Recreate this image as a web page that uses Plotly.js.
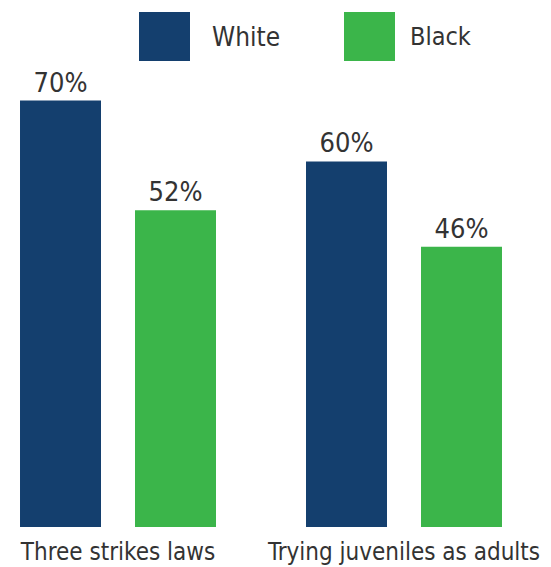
<!DOCTYPE html>
<html>
<head>
<meta charset="utf-8">
<script src="https://cdn.plot.ly/plotly-3.0.1.min.js"></script>
<style>html,body{margin:0;padding:0;background:#fff;}#chart{width:551px;height:567px;}</style>
</head>
<body>
<div id="chart"></div>
<script>
const categories = ["Three strikes laws", "Trying juveniles as adults"];
const seriesNames = ["White", "Black"];
const whiteValues = [70, 60];
const blackValues = [52, 46];

const FONT = "'DejaVu Sans Condensed', 'DejaVu Sans', sans-serif";
const NAVY = "#143f6e";
const GREEN = "#3bb54a";
const TEXT = "#333333";

const traces = [
  {type: "bar", name: seriesNames[0], x: categories, y: whiteValues,
   marker: {color: NAVY}, text: whiteValues.map(v => v + "%"), textposition: "outside",
   textfont: {family: FONT, size: 27, color: TEXT}, cliponaxis: false, hoverinfo: "skip"},
  {type: "bar", name: seriesNames[1], x: categories, y: blackValues,
   marker: {color: GREEN}, text: blackValues.map(v => v + "%"), textposition: "outside",
   textfont: {family: FONT, size: 27, color: TEXT}, cliponaxis: false, hoverinfo: "skip"}
];

const W = 551, H = 567, B = 40, PH = H - B;
const px = x => x / W;
const py = y => (PH - y) / PH;

const layout = {
  width: W, height: H,
  margin: {l: 0, r: 0, t: 0, b: B, pad: 0},
  paper_bgcolor: "#ffffff", plot_bgcolor: "#ffffff",
  barmode: "group", bargap: 0.1958, bargroupgap: 0.2957,
  showlegend: false,
  font: {family: FONT, color: TEXT},
  xaxis: {type: "category", range: [-0.4126, 1.514], showgrid: false, zeroline: false,
          showline: false, ticks: "", tickfont: {family: FONT, size: 24, color: TEXT},
          ticklabelstandoff: 8, automargin: false, fixedrange: true},
  yaxis: {range: [0, 86.5], visible: false, showgrid: false, zeroline: false, automargin: false},
  shapes: [
    {type: "rect", xref: "paper", yref: "paper", x0: px(139), x1: px(190), y0: py(61), y1: py(12),
     fillcolor: NAVY, line: {width: 0}},
    {type: "rect", xref: "paper", yref: "paper", x0: px(344), x1: px(395), y0: py(61), y1: py(12),
     fillcolor: GREEN, line: {width: 0}}
  ],
  annotations: [
    {text: seriesNames[0], xref: "paper", yref: "paper", x: px(210), y: py(37), xanchor: "left", yanchor: "middle",
     showarrow: false, font: {family: FONT, size: 26, color: TEXT}},
    {text: seriesNames[1], xref: "paper", yref: "paper", x: px(408), y: py(37), xanchor: "left", yanchor: "middle",
     showarrow: false, font: {family: FONT, size: 25, color: TEXT}}
  ]
};

Plotly.newPlot("chart", traces, layout, {displayModeBar: false, staticPlot: true});
</script>
</body>
</html>
